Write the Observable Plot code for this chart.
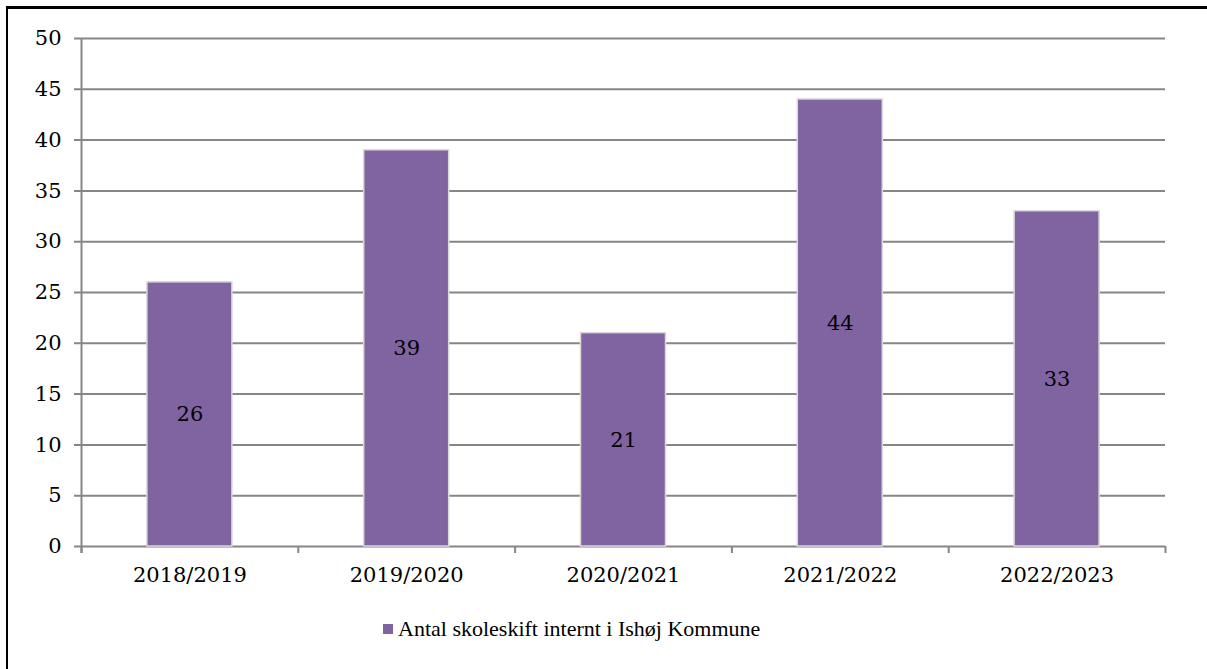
<!DOCTYPE html>
<html>
<head>
<meta charset="utf-8">
<script src="https://cdn.jsdelivr.net/npm/d3@7"></script>
<script src="https://cdn.jsdelivr.net/npm/@observablehq/plot@0.6"></script>
<style>
  html, body { margin: 0; padding: 0; background: #fff; }
  body { width: 1207px; height: 669px; position: relative; overflow: hidden; font-family: "DejaVu Serif", serif; }
  #frame { position: absolute; left: 6px; top: 6px; width: 1220px; height: 700px; border-left: 2px solid #000; border-top: 3px solid #000; box-sizing: border-box; }
  #chart { position: absolute; left: 0; top: 0; }
  #legend { position: absolute; left: 383px; top: 616px; font-family: "Liberation Serif", serif; font-size: 22px; color: #000; display: flex; align-items: center; white-space: nowrap; }
  #legend .sw { width: 10px; height: 10px; background: #8064A2; margin-right: 5px; }
</style>
</head>
<body>
<div id="frame"></div>
<div id="chart"></div>
<div id="legend"><span class="sw"></span><span id="legtext"></span></div>
<script>
const categories = ["2018/2019", "2019/2020", "2020/2021", "2021/2022", "2022/2023"];
const values = [26, 39, 21, 44, 33];
const yTicks = [0, 5, 10, 15, 20, 25, 30, 35, 40, 45, 50];
const seriesName = "Antal skoleskift internt i Ishøj Kommune";

const data = categories.map((c, i) => ({cat: c, i, value: values[i]}));
const boundaries = d3.range(categories.length + 1);
const centers = categories.map((c, i) => i + 0.5);

const W = 1207, H = 600;
const mL = 81, mR = 42, mT = 38, mB = 54;
const band = (W - mL - mR) / categories.length;
const barW = 85;
const inset = (band - barW) / 2;

const font = "DejaVu Serif, serif";
const chart = Plot.plot({
  width: W, height: H,
  marginLeft: mL, marginRight: mR, marginTop: mT, marginBottom: mB,
  style: {fontFamily: font, fontSize: "21px", color: "#000", background: "transparent"},
  x: {type: "linear", domain: [0, categories.length], label: null},
  y: {domain: [0, 50], label: null},
  marks: [
    Plot.gridY(yTicks, {stroke: "#868686", strokeOpacity: 1, strokeWidth: 2, x1: 0, x2: categories.length, insetLeft: -7}),
    Plot.ruleX([0], {stroke: "#868686", strokeWidth: 2, insetBottom: -7}),
    Plot.axisY({ticks: yTicks, tickSize: 0, tickPadding: 20, fontSize: 21, fill: "#000", label: null}),
    Plot.axisX({ticks: boundaries, tickSize: 7, tickFormat: () => "", stroke: "#868686", strokeWidth: 2, strokeOpacity: 1, label: null}),
    Plot.axisX({ticks: centers, tickSize: 0, tickPadding: 21, tickFormat: d => categories[Math.round(d - 0.5)], fontSize: 21, fill: "#000", label: null}),
    Plot.rectY(data, {x1: "i", x2: d => d.i + 1, y: "value", fill: "#8064A2", stroke: "#d9d9d9", strokeWidth: 1.5, insetLeft: inset, insetRight: inset}),
    Plot.text(data, {x: d => d.i + 0.5, y: d => d.value / 2, text: d => String(d.value), fill: "#000", fontSize: 21})
  ]
});
document.getElementById("chart").appendChild(chart);
document.getElementById("legtext").textContent = seriesName;
</script>
</body>
</html>
